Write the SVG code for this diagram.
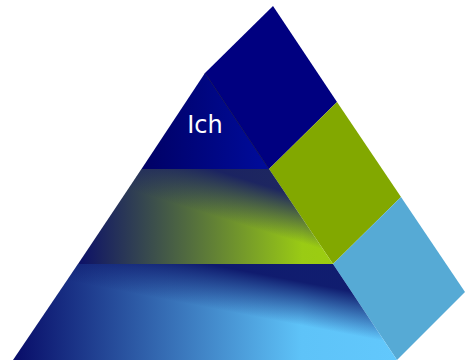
<svg xmlns="http://www.w3.org/2000/svg" width="466" height="360" viewBox="0 0 466 360">
<style>
.lbl{font-family:"DejaVu Sans","Liberation Sans",sans-serif;font-size:24px;fill:#ffffff}
</style>
<defs>
<linearGradient id="gTop" x1="141" y1="0" x2="269" y2="0" gradientUnits="userSpaceOnUse">
<stop offset="0" stop-color="#000064"/>
<stop offset="1" stop-color="#000c9c"/>
</linearGradient>
<linearGradient id="gMidBase" x1="78" y1="0" x2="333" y2="0" gradientUnits="userSpaceOnUse">
<stop offset="0" stop-color="#0c1068"/>
<stop offset="0.88" stop-color="#9acb14"/>
<stop offset="1" stop-color="#9ccd10"/>
</linearGradient>
<linearGradient id="gMidOver" x1="218" y1="171" x2="192" y2="255" gradientUnits="userSpaceOnUse">
<stop offset="0" stop-color="#141a66" stop-opacity="0.92"/>
<stop offset="0.5" stop-color="#141a66" stop-opacity="0"/>
<stop offset="1" stop-color="#141a66" stop-opacity="0"/>
</linearGradient>
<linearGradient id="gBotBase" x1="13" y1="0" x2="397" y2="0" gradientUnits="userSpaceOnUse">
<stop offset="0" stop-color="#080c68"/>
<stop offset="0.75" stop-color="#5ec3f8"/>
<stop offset="1" stop-color="#62c8fc"/>
</linearGradient>
<linearGradient id="gBotOver" x1="213" y1="265" x2="197" y2="349" gradientUnits="userSpaceOnUse">
<stop offset="0" stop-color="#0c1468" stop-opacity="0.95"/>
<stop offset="0.5" stop-color="#0c1468" stop-opacity="0"/>
<stop offset="1" stop-color="#0c1468" stop-opacity="0"/>
</linearGradient>
</defs>
<g id="side">
<polygon id="side-top" points="205,73 273,6 337,102 269,169" fill="#000080"/>
<polygon id="side-mid" points="269,169 337,102 401,197 333,264" fill="#82a800"/>
<polygon id="side-bot" points="333,264 401,197 465,292 397,360" fill="#56aad5"/>
</g>
<g id="layer-top">
<polygon points="205,73 269,169 141.5,169" fill="url(#gTop)"/>
<line x1="205" y1="73" x2="269" y2="169" stroke="#00004a" stroke-width="0.8"/>
<text class="lbl" x="205" y="133" text-anchor="middle">Ich</text>
</g>
<g id="layer-mid">
<polygon points="141.5,169 269,169 333,264 78,264" fill="url(#gMidBase)"/>
<polygon points="141.5,169 269,169 333,264 78,264" fill="url(#gMidOver)"/>
</g>
<g id="layer-bot">
<polygon points="78,264 333,264 397,360 13,360" fill="url(#gBotBase)"/>
<polygon points="78,264 333,264 397,360 13,360" fill="url(#gBotOver)"/>
</g>
</svg>
